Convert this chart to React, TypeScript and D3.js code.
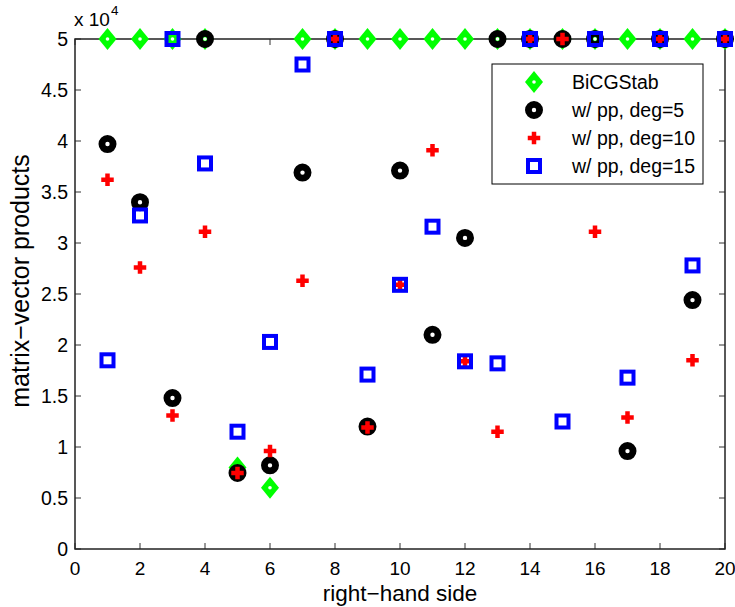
import React from "react";
import * as d3 from "d3";

const rhs = [1, 2, 3, 4, 5, 6, 7, 8, 9, 10, 11, 12, 13, 14, 15, 16, 17, 18, 19, 20];
const bicgstab = [5, 5, 5, 5, 0.8, 0.6, 5, 5, 5, 5, 5, 5, 5, 5, 5, 5, 5, 5, 5, 5];
const deg5 = [3.97, 3.4, 1.48, 5, 0.745, 0.82, 3.69, 5, 1.2, 3.71, 2.1, 3.05, 5, 5, 5, 5, 0.96, 5, 2.44, 5];
const deg10 = [3.62, 2.76, 1.31, 3.11, 0.745, 0.96, 2.63, 5, 1.19, 2.59, 3.91, 1.84, 1.15, 5, 5, 3.11, 1.29, 5, 1.85, 5];
const deg15 = [1.85, 3.27, 5, 3.78, 1.15, 2.03, 4.75, 5, 1.71, 2.59, 3.16, 1.84, 1.82, 5, 1.25, 5, 1.68, 5, 2.78, 5];
const xTicks = [0, 2, 4, 6, 8, 10, 12, 14, 16, 18, 20];
const yTicks = [0, 0.5, 1, 1.5, 2, 2.5, 3, 3.5, 4, 4.5, 5];
const legendLabels = ["BiCGStab", "w/ pp, deg=5", "w/ pp, deg=10", "w/ pp, deg=15"];

const W = 735, H = 607;
const L = 75, R = 725, T = 39, B = 549;
const FONT = "'Liberation Sans', Arial, Helvetica, sans-serif";

const Diamond = ({ x, y }: { x: number; y: number }) => (
  <g transform={`translate(${x},${y})`}>
    <path d="M0,-11 L9,0 L0,11 L-9,0 Z" fill="#00ff00" />
    <circle r={1.8} fill="#fff" />
  </g>
);
const Ring = ({ x, y }: { x: number; y: number }) => (
  <circle cx={x} cy={y} r={5.6} fill="none" stroke="#000" strokeWidth={6.8} />
);
const Plus = ({ x, y }: { x: number; y: number }) => (
  <path d={`M${x - 4},${y} H${x + 4} M${x},${y - 4} V${y + 4}`} stroke="#ff0000" strokeWidth={4.5} strokeLinecap="square" fill="none" />
);
const Square = ({ x, y }: { x: number; y: number }) => (
  <rect x={x - 6} y={y - 6} width={12} height={12} fill="none" stroke="#0000ff" strokeWidth={4} />
);

export default function App() {
  const xs = d3.scaleLinear().domain([0, 20]).range([L, R]);
  const ys = d3.scaleLinear().domain([0, 5]).range([B, T]);
  const series = [
    { data: bicgstab, M: Diamond },
    { data: deg5, M: Ring },
    { data: deg10, M: Plus },
    { data: deg15, M: Square },
  ];
  const tl = 6;
  const legY = [82, 110, 138, 166];
  return (
    <svg width={W} height={H} style={{ position: "absolute", left: 0, top: 0, background: "#fff" }} fontFamily={FONT}>
      <rect x={0} y={0} width={W} height={H} fill="#fff" />
      {xTicks.map((t) => (
        <g key={"xt" + t} stroke="#333" strokeWidth={1}>
          <line x1={xs(t)} x2={xs(t)} y1={B} y2={B - tl} />
          <line x1={xs(t)} x2={xs(t)} y1={T} y2={T + tl} />
        </g>
      ))}
      {yTicks.map((t) => (
        <g key={"yt" + t} stroke="#333" strokeWidth={1}>
          <line x1={L} x2={L + tl} y1={ys(t)} y2={ys(t)} />
          <line x1={R} x2={R - tl} y1={ys(t)} y2={ys(t)} />
        </g>
      ))}
      <rect x={L} y={T} width={R - L} height={B - T} fill="none" stroke="#222" strokeWidth={1.5} />
      {xTicks.map((t) => (
        <text key={"xl" + t} x={xs(t)} y={575} textAnchor="middle" fontSize={19} fill="#000">{t}</text>
      ))}
      {yTicks.map((t) => (
        <text key={"yl" + t} x={68} y={ys(t)} dy="0.36em" textAnchor="end" fontSize={19.5} fill="#000">{t}</text>
      ))}
      <text x={74} y={26} fontSize={19} fill="#000">x 10</text>
      <text x={111} y={15} fontSize={13.5} fill="#000">4</text>
      <text x={400} y={601} textAnchor="middle" fontSize={22.5} fill="#000">right−hand side</text>
      <text transform={`translate(29,281) rotate(-90)`} textAnchor="middle" fontSize={25} fill="#000">matrix−vector products</text>
      {series.map(({ data, M }, si) => (
        <g key={"s" + si}>
          {data.map((v, i) => (
            <M key={i} x={xs(rhs[i])} y={ys(v)} />
          ))}
        </g>
      ))}
      <rect x={492} y={64} width={211} height={120} fill="#fff" stroke="#000" strokeWidth={1} />
      {series.map(({ M }, si) => (
        <g key={"lg" + si}>
          <M x={534} y={legY[si]} />
          <text x={572} y={legY[si]} dy="0.36em" fontSize={19.5} fill="#000">{legendLabels[si]}</text>
        </g>
      ))}
    </svg>
  );
}
